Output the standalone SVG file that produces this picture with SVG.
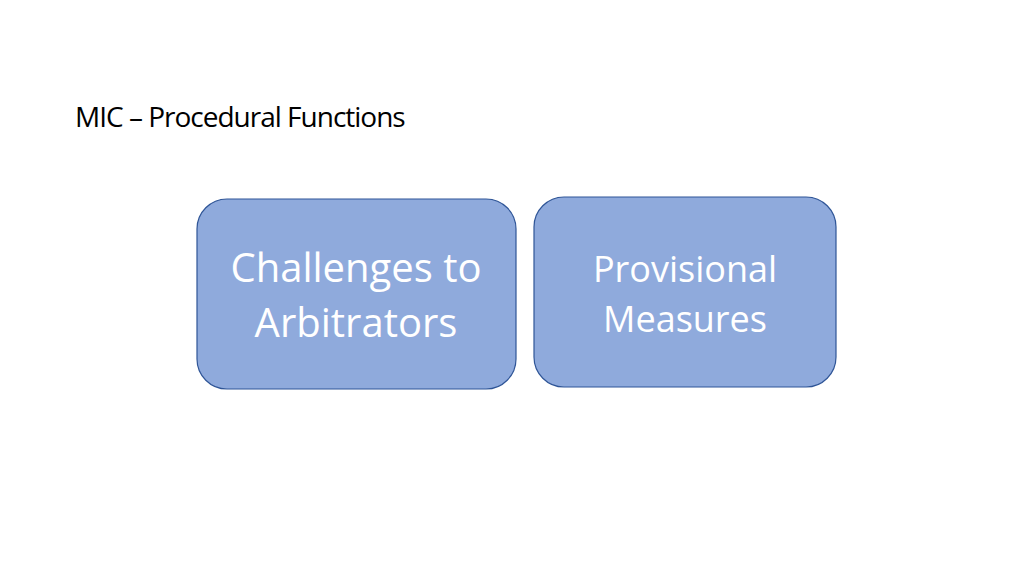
<svg xmlns="http://www.w3.org/2000/svg" width="1024" height="576" viewBox="0 0 1024 576">
<style>
.box{fill:#8faadc;stroke:#2f5597;stroke-width:1.2}
.t{font-family:"Open Sans","Liberation Sans",sans-serif;fill:#fff;text-anchor:middle}
</style>
<rect width="1024" height="576" fill="#fff"/>
<text x="75" y="127" font-family="'Open Sans','Liberation Sans',sans-serif" font-size="28" letter-spacing="-1" fill="#000">MIC – Procedural Functions</text>
<g id="n1"><rect class="box" x="197" y="199" width="319" height="190" rx="30"/>
<text class="t" x="356" y="282" font-size="40">Challenges to</text>
<text class="t" x="356" y="337" font-size="40">Arbitrators</text></g>
<g id="n2"><rect class="box" x="534" y="197" width="302" height="190" rx="30"/>
<text class="t" x="685" y="282" font-size="36">Provisional</text>
<text class="t" x="685" y="332" font-size="36">Measures</text></g>
<g id="connectors"/>
</svg>
